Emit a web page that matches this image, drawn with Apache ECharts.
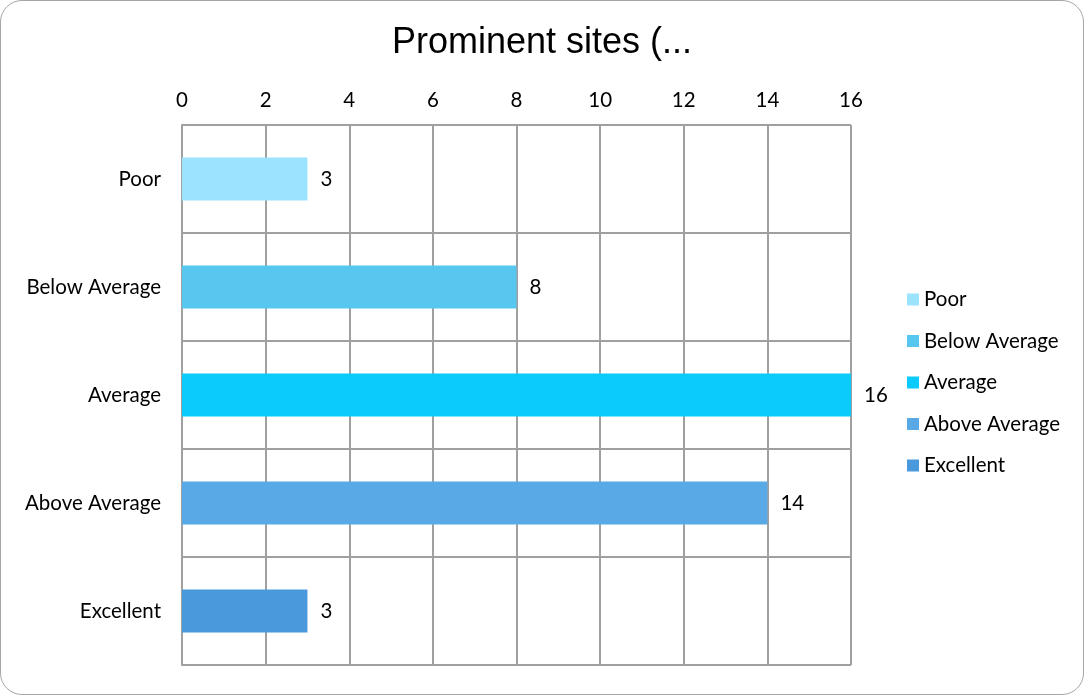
<!DOCTYPE html>
<html>
<head>
<meta charset="utf-8">
<script src="https://cdn.jsdelivr.net/npm/echarts@6/dist/echarts.min.js"></script>
<style>
  html, body { margin: 0; padding: 0; background: #fff; }
  .chartBox {
    box-sizing: border-box;
    width: 1084px;
    height: 695px;
    border: 1.5px solid #a6a6a6;
    border-radius: 22px;
    overflow: hidden;
  }
  #chart { width: 100%; height: 100%; }
</style>
</head>
<body>
<div class="chartBox"><div id="chart"></div></div>
<script>
// data
var categories = ["Poor", "Below Average", "Average", "Above Average", "Excellent"];
var values = [3, 8, 16, 14, 3];
var xTicks = [0, 2, 4, 6, 8, 10, 12, 14, 16];
var colors = ["#9be3fe", "#57c7ef", "#0bcbfd", "#58a9e6", "#4a99dd"];

var myChart = echarts.init(document.getElementById("chart"));
var font = "Lato, 'Open Sans', sans-serif";
var fs = 20.5;

// one series per category so the legend lists each one
var series = categories.map(function (name, i) {
  var d = categories.map(function (c, j) { return j === i ? values[i] : null; });
  return {
    name: name,
    type: "bar",
    data: d,
    barWidth: 43,
    barGap: "-100%",
    itemStyle: { color: colors[i] },
    label: {
      show: true,
      position: "right",
      distance: 13,
      color: "#000",
      fontSize: fs,
      fontFamily: font,
      padding: [4, 0, 0, 0]
    }
  };
});

var option = {
  animation: false,
  color: colors,
  title: {
    text: "Prominent sites (...",
    left: "center",
    top: 19,
    textStyle: {
      fontSize: 36,
      fontWeight: "normal",
      color: "#000",
      fontFamily: "'Liberation Sans', Arial, sans-serif"
    }
  },
  grid: { left: 181, right: 232, top: 124, bottom: 29 },
  legend: {
    orient: "vertical",
    left: 906,
    top: 288,
    padding: 0,
    icon: "rect",
    itemWidth: 12,
    itemHeight: 12,
    itemGap: 20.5,
    data: categories,
    textStyle: { fontSize: fs, lineHeight: 20, color: "#000", fontFamily: font }
  },
  xAxis: {
    type: "value",
    position: "top",
    min: xTicks[0],
    max: xTicks[xTicks.length - 1],
    interval: 2,
    axisLine: { show: false },
    axisTick: { show: false },
    axisLabel: { color: "#000", fontSize: fs, margin: 14, fontFamily: font },
    splitLine: { show: true, lineStyle: { color: "#a0a0a0", width: 2 } }
  },
  yAxis: {
    type: "category",
    inverse: true,
    data: categories,
    axisLine: { show: true, lineStyle: { color: "#a0a0a0", width: 2 } },
    axisTick: { show: false },
    axisLabel: { color: "#000", fontSize: fs, margin: 21, fontFamily: font, padding: [4, 0, 0, 0] },
    splitLine: { show: true, lineStyle: { color: "#a0a0a0", width: 2 } }
  },
  series: series
};
myChart.setOption(option);
</script>
</body>
</html>
